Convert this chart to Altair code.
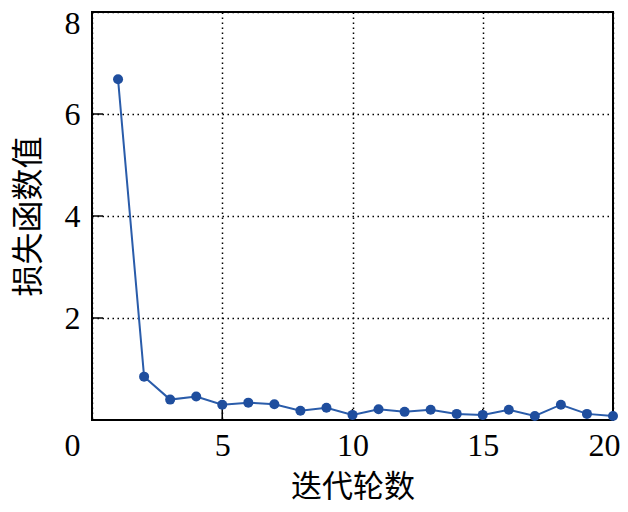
import altair as alt
import pandas as pd

epochs = [1, 2, 3, 4, 5, 6, 7, 8, 9, 10, 11, 12, 13, 14, 15, 16, 17, 18, 19, 20]
loss = [6.68, 0.85, 0.40, 0.46, 0.30, 0.34, 0.31, 0.18, 0.24, 0.10,
        0.21, 0.16, 0.20, 0.12, 0.10, 0.20, 0.08, 0.30, 0.12, 0.08]
x_ticks = [0, 5, 10, 15, 20]
y_ticks = [2, 4, 6, 8]
x_inner_ticks = [5, 10, 15]
y_inner_ticks = [2, 4, 6]

W, H = 521, 408
SERIF = "Liberation Serif"
CJK = "Noto Sans CJK SC"

df = pd.DataFrame({"epoch": epochs, "loss": loss})

xscale = alt.Scale(domain=[0, 20], nice=False, zero=False)
yscale = alt.Scale(domain=[0, 8], nice=False)

grid_kw = dict(grid=True, gridColor="black", gridDash=[1.5, 3.5], gridWidth=1.5,
               gridOpacity=1, domain=False, ticks=False)

xaxis = alt.Axis(values=x_ticks, labelFont=SERIF, labelFontSize=32, labelColor="black",
                 labelPadding=10, labelFlush=False,
                 labelOffset={"condition": [{"test": "datum.value == 0", "value": -20},
                                            {"test": "datum.value == 20", "value": -9}],
                              "value": 0},
                 title="迭代轮数", titleFont=CJK, titleFontSize=31, titleFontWeight="normal",
                 titleColor="black", titleY=67, titleBaseline="middle", **grid_kw)
yaxis = alt.Axis(values=y_ticks, labelFont=SERIF, labelFontSize=32, labelColor="black",
                 labelPadding=12, labelFlush=False,
                 labelOffset={"condition": {"test": "datum.value == 8", "value": 11}, "value": 0},
                 title="损失函数值", titleFont=CJK, titleFontSize=32, titleFontWeight="normal",
                 titleColor="black", titleX=-64, titleY=H / 2, titleAngle=270,
                 titleAlign="center", titleBaseline="middle", **grid_kw)

base = alt.Chart(df)
line = base.mark_line(color="#2A5CAA", strokeWidth=2).encode(
    x=alt.X("epoch:Q", scale=xscale, axis=xaxis),
    y=alt.Y("loss:Q", scale=yscale, axis=yaxis),
)
pts = base.mark_circle(color="#1F4E9E", size=100, opacity=1).encode(
    x=alt.X("epoch:Q", scale=xscale, axis=xaxis),
    y=alt.Y("loss:Q", scale=yscale, axis=yaxis),
)
xt = alt.Chart(pd.DataFrame({"t": x_inner_ticks})).mark_rule(color="black", strokeWidth=1.5).encode(
    x=alt.X("t:Q", scale=xscale, axis=xaxis),
    y=alt.value(H), y2=alt.value(H - 11),
)
yt = alt.Chart(pd.DataFrame({"t": y_inner_ticks})).mark_rule(color="black", strokeWidth=1.5).encode(
    y=alt.Y("t:Q", scale=yscale, axis=yaxis),
    x=alt.value(0), x2=alt.value(11),
)

chart = alt.layer(xt, yt, line, pts).properties(
    width=W, height=H,
    autosize=alt.AutoSizeParams(type="none"),
    padding={"left": 84, "top": 4, "right": 7, "bottom": 82},
).configure_view(stroke="black", strokeWidth=2)

chart.save("out.html", embed_options={"renderer": "svg", "actions": False})
